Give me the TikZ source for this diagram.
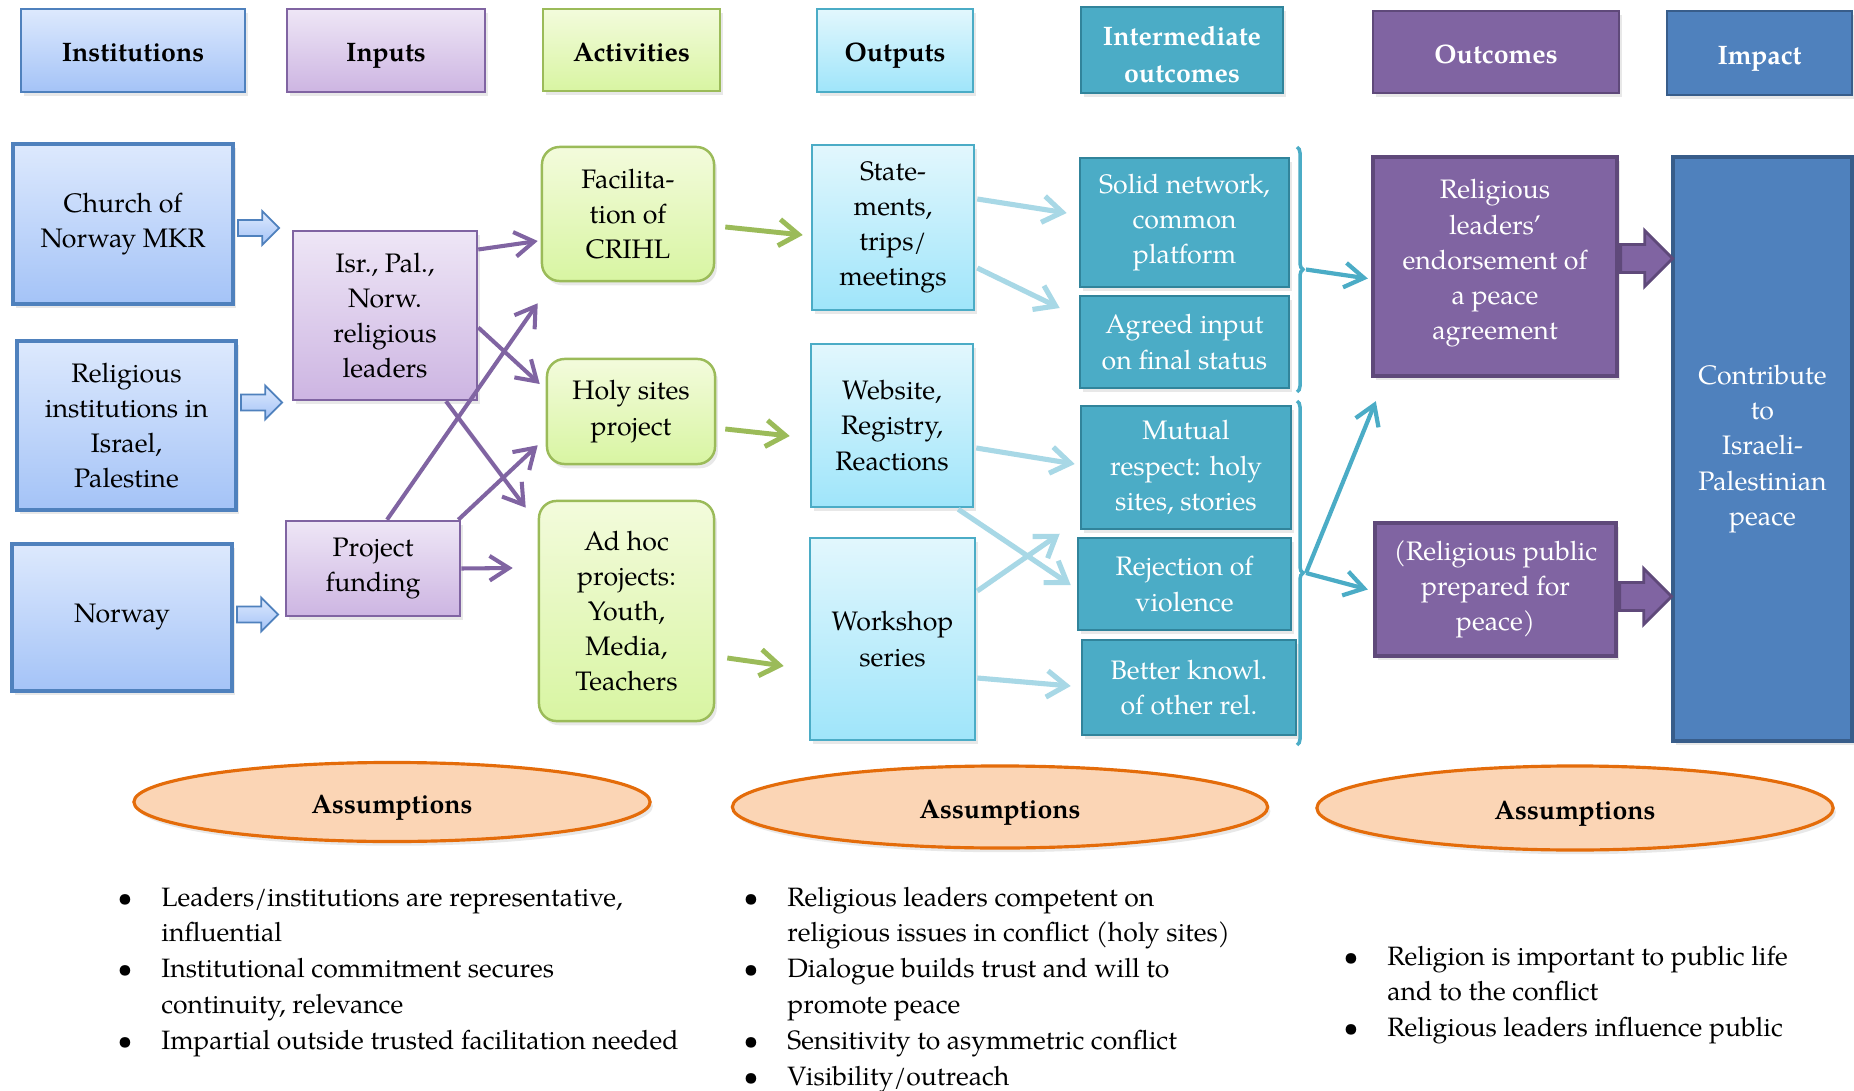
\documentclass[tikz,border=0pt]{standalone}
\usepackage{fontspec}
\setmainfont{TeX Gyre Pagella}
\usetikzlibrary{arrows.meta,shapes.geometric,shapes.arrows,shadows,calc,decorations.pathreplacing}

\definecolor{instB}{HTML}{4F81BD}
\definecolor{instT}{HTML}{DDE9FD}
\definecolor{instBot}{HTML}{A4C3F7}
\definecolor{inpB}{HTML}{8064A2}
\definecolor{inpT}{HTML}{EEE6F6}
\definecolor{inpBot}{HTML}{CDB5E2}
\definecolor{actB}{HTML}{9BBB59}
\definecolor{actT}{HTML}{F3FBDC}
\definecolor{actBot}{HTML}{D8F5A2}
\definecolor{outB}{HTML}{4BACC6}
\definecolor{outT}{HTML}{E2F7FD}
\definecolor{outBot}{HTML}{9FE5FA}
\definecolor{intF}{HTML}{4BACC6}
\definecolor{intB}{HTML}{31849B}
\definecolor{ocF}{HTML}{8064A2}
\definecolor{ocB}{HTML}{5F497A}
\definecolor{impF}{HTML}{4F81BD}
\definecolor{impB}{HTML}{385D8A}
\definecolor{ellF}{HTML}{FBD5B5}
\definecolor{ellB}{HTML}{E46C0A}
\definecolor{lblue}{HTML}{A8D8E6}

\tikzset{
  txt/.style={font=\fontsize{7.6}{10}\selectfont},
  base/.style={txt, align=center, inner sep=0pt,
    drop shadow={opacity=0.18, shadow xshift=0.8pt, shadow yshift=-1.2pt}},
  hdr/.style={base, font=\fontsize{7.6}{10}\selectfont\bfseries, line width=0.7pt},
  oneline/.style={text height=6.4pt, text depth=0pt},
  hinst/.style={hdr, oneline, draw=instB, top color=instT, bottom color=instBot},
  hinp/.style={hdr, oneline, draw=inpB, top color=inpT, bottom color=inpBot},
  hact/.style={hdr, oneline, draw=actB, top color=actT, bottom color=actBot},
  hout/.style={hdr, oneline, draw=outB, top color=outT, bottom color=outBot},
  hint/.style={hdr, draw=intB, fill=intF, text=white, font=\fontsize{7.6}{10.5}\selectfont\bfseries},
  hoc/.style={hdr, oneline, draw=ocB, fill=ocF, text=white},
  himp/.style={hdr, oneline, draw=impB, fill=impF, text=white},
  instbox/.style={base, draw=instB, line width=1.2pt, top color=instT, bottom color=instBot},
  inpbox/.style={base, draw=inpB, line width=0.7pt, top color=inpT, bottom color=inpBot},
  actbox/.style={base, draw=actB, line width=0.7pt, rounded corners=5pt, top color=actT, bottom color=actBot},
  outbox/.style={base, draw=outB, line width=0.7pt, top color=outT, bottom color=outBot},
  intbox/.style={base, draw=intB, line width=0.7pt, fill=intF, text=white},
  ocbox/.style={base, draw=ocB, line width=1.2pt, fill=ocF, text=white},
  impbox/.style={base, draw=impB, line width=1pt, fill=impF, text=white},
  ellbox/.style={base, oneline, ellipse, draw=ellB, line width=0.9pt, fill=ellF, font=\fontsize{7.6}{10}\selectfont\bfseries},
  parr/.style={draw=inpB, line width=1.15pt, -{Straight Barb[length=5.5pt,width=7pt]}},
  garr/.style={draw=actB, line width=1.4pt, -{Straight Barb[length=5.5pt,width=7.5pt]}},
  larr/.style={draw=lblue, line width=1.45pt, -{Straight Barb[length=5.5pt,width=7.5pt]}},
  tarr/.style={draw=outB, line width=1.2pt, -{Straight Barb[length=5.5pt,width=7pt]}},
  lblock/.style={single arrow, draw=instB, line width=0.5pt, top color=instT, bottom color=instBot,
    inner sep=0.07cm, single arrow head extend=0.09cm, minimum height=0.41cm, single arrow head indent=0pt, anchor=west},
  pblock/.style={single arrow, draw=ocB, line width=0.8pt, fill=ocF,
    inner sep=0.125cm, single arrow head extend=0.14cm, minimum height=0.52cm, single arrow head indent=0pt, anchor=west},
  brc/.style={draw=outB, line width=1pt, decorate, decoration={brace, amplitude=0.06cm}},
  blist/.style={font=\fontsize{7.55}{10.2}\selectfont, inner sep=0pt, anchor=base west}
}
\newcommand{\blt}{\textbullet}

\begin{document}
\begin{tikzpicture}[x=0.01cm, y=-0.01cm]
\fill[white] (0,0) rectangle (1854,1091);
\useasboundingbox (0,0) rectangle (1854,1091);

% headers
\node[hinst, minimum width=2.24cm, minimum height=0.83cm] (hInst) at (133,50.5) {Institutions};
\node[hinp, minimum width=1.98cm, minimum height=0.83cm] (hInp) at (386,50.5) {Inputs};
\node[hact, minimum width=1.77cm, minimum height=0.82cm] (hAct) at (631.5,50) {Activities};
\node[hout, minimum width=1.56cm, minimum height=0.83cm] (hOut) at (895,50.5) {Outputs};
\node[hint, minimum width=2.02cm, minimum height=0.86cm] (hInt) at (1182,50) {\rule{0pt}{8.2pt}Intermediate\\outcomes};
\node[hoc, minimum width=2.46cm, minimum height=0.82cm] (hOc) at (1496,52) {Outcomes};
\node[himp, minimum width=1.85cm, minimum height=0.84cm] (hImp) at (1759.5,53) {Impact};

% institutions
\node[instbox, minimum width=2.20cm, minimum height=1.60cm] (iChurch) at (123,224) {Church of\\Norway MKR};
\node[instbox, minimum width=2.19cm, minimum height=1.69cm] (iRel) at (126.5,425.5) {Religious\\institutions in\\Israel,\\Palestine};
\node[instbox, minimum width=2.20cm, minimum height=1.47cm] (iNor) at (122,617.5) {Norway};

% inputs
\node[inpbox, minimum width=1.84cm, minimum height=1.69cm] (pLead) at (385,315.5) {Isr., Pal.,\\Norw.\\religious\\leaders};
\node[inpbox, minimum width=1.74cm, minimum height=0.95cm] (pFund) at (373,568.5) {Project\\funding};

% activities
\node[actbox, minimum width=1.72cm, minimum height=1.34cm] (aFac) at (628,214) {Facilita-\\tion of\\CRIHL};
\node[actbox, minimum width=1.68cm, minimum height=1.05cm] (aHoly) at (631,411.5) {Holy sites\\project};
\node[actbox, minimum width=1.75cm, minimum height=2.20cm] (aAd) at (626.5,611) {Ad hoc\\projects:\\Youth,\\Media,\\Teachers};

% outputs
\node[outbox, minimum width=1.62cm, minimum height=1.65cm] (oSta) at (893,227.5) {State-\\ments,\\trips/\\meetings};
\node[outbox, minimum width=1.62cm, minimum height=1.63cm] (oWeb) at (892,425.5) {Website,\\Registry,\\Reactions};
\node[outbox, minimum width=1.65cm, minimum height=2.02cm] (oWork) at (892.5,639) {Workshop\\series};

% intermediate outcomes
\node[intbox, minimum width=2.09cm, minimum height=1.29cm] (mSolid) at (1184.5,222.5) {Solid network,\\common\\platform};
\node[intbox, minimum width=2.09cm, minimum height=0.92cm] (mAgreed) at (1184.5,342) {Agreed input\\on final status};
\node[intbox, minimum width=2.10cm, minimum height=1.23cm] (mMutual) at (1186,467.5) {Mutual\\respect: holy\\sites, stories};
\node[intbox, minimum width=2.13cm, minimum height=0.92cm] (mRej) at (1184.5,584) {Rejection of\\violence};
\node[intbox, minimum width=2.14cm, minimum height=0.95cm] (mBetter) at (1189,687.5) {Better knowl.\\of other rel.};

% outcomes
\node[ocbox, minimum width=2.44cm, minimum height=2.19cm] (uLead) at (1495,266.5) {Religious\\leaders’\\endorsement of\\a peace\\agreement\rule[-4pt]{0pt}{0pt}};
\node[ocbox, minimum width=2.41cm, minimum height=1.33cm] (uPub) at (1495.5,589.5) {(Religious public\\prepared for\\peace)};

% impact
\node[impbox, minimum width=1.79cm, minimum height=5.84cm] (imp) at (1762.5,449) {Contribute\\to\\Israeli-\\Palestinian\\peace};

% block arrows
\node[lblock] (bChurch) at ($(iChurch.east)+(2,4)$) {};
\node[lblock] (bRel) at ($(iRel.east)+(2,-23)$) {};
\node[lblock] (bNor) at ($(iNor.east)+(2,-3)$) {};
\node[pblock] (bLead) at ($(uLead.east)+(0,-8)$) {};
\node[pblock] (bPub) at ($(uPub.east)+(0,7)$) {};

% purple arrows
\draw[parr] ($(pLead.east)+(0,-66)$) -- ($(aFac.west)+(-3,27)$);
\draw[parr] ($(pLead.east)+(0,12)$) -- ($(aHoly.west)+(-6,-27.5)$);
\draw[parr] ($(pLead.south)+(61,0)$) -- ($(aAd.north west)+(-12,8)$);
\draw[parr] ($(pFund.north)+(14,0)$) -- ($(aFac.south west)+(-3,21)$);
\draw[parr] ($(pFund.north east)+(-3,0)$) -- ($(aHoly.south west)+(-8,-20)$);
\draw[parr] (pFund.east) -- ($(aAd.west)+(-25,-43)$);

% green arrows
\draw[garr] ($(aFac.east)+(10,13)$) -- ($(oSta.west)+(-8,7.5)$);
\draw[garr] ($(aHoly.east)+(9,17.5)$) -- ($(oWeb.west)+(-20,10.5)$);
\draw[garr] ($(aAd.east)+(12,47)$) -- ($(oWork.west)+(-25,27)$);

% light blue arrows
\draw[larr] ($(oSta.east)+(2,-28.5)$) -- ($(mSolid.west)+(-12,-9.5)$);
\draw[larr] ($(oSta.east)+(2,40.5)$) -- ($(mAgreed.west)+(-19,-34)$);
\draw[larr] ($(oWeb.east)+(2,22.5)$) -- ($(mMutual.west)+(-5,-3.5)$);
\draw[larr] ($(oWeb.south east)+(-16,1)$) -- ($(mRej.west)+(-6,1)$);
\draw[larr] ($(oWork.east)+(1,-48)$) -- ($(mRej.north west)+(-17,-3)$);
\draw[larr] ($(oWork.east)+(1,39)$) -- ($(mBetter.west)+(-10,-1.5)$);

% braces
\draw[brc] (1297,147) -- (1297,392);
\draw[brc] (1297,401) -- (1297,745);
\coordinate (b1) at (1306,269.5);
\coordinate (b2) at (1306,573);
\draw[tarr] (b1) -- ($(uLead.west)+(-3,12)$);
\draw[tarr] (b2) -- ($(uLead.south west)+(5,23)$);
\draw[tarr] (b2) -- ($(uPub.west)+(-5,0)$);

% assumptions
\node[ellbox, minimum width=5.16cm, minimum height=0.79cm] (e1) at (392,802) {Assumptions};
\node[ellbox, minimum width=5.35cm, minimum height=0.82cm] (e2) at (1000,807) {Assumptions};
\node[ellbox, minimum width=5.16cm, minimum height=0.84cm] (e3) at (1575,808) {Assumptions};

\node[blist] (l1) at (117,906) {\begin{tabular}[t]{@{}l@{\hspace{8.2pt}}l@{}}
\blt & Leaders/institutions are representative,\\
 & influential\\
\blt & Institutional commitment secures\\
 & continuity, relevance\\
\blt & Impartial outside trusted facilitation needed
\end{tabular}};

\node[blist] (l2) at (743,906) {\begin{tabular}[t]{@{}l@{\hspace{8.2pt}}l@{}}
\blt & Religious leaders competent on\\
 & religious issues in conflict (holy sites)\\
\blt & Dialogue builds trust and will to\\
 & promote peace\\
\blt & Sensitivity to asymmetric conflict\\
\blt & Visibility/outreach
\end{tabular}};

\node[blist] (l3) at (1343,965) {\begin{tabular}[t]{@{}l@{\hspace{8.2pt}}l@{}}
\blt & Religion is important to public life\\
 & and to the conflict\\
\blt & Religious leaders influence public
\end{tabular}};
\end{tikzpicture}
\end{document}
